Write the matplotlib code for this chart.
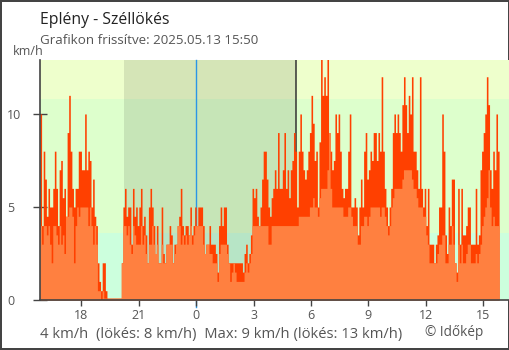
import matplotlib
matplotlib.use("Agg")
import matplotlib.pyplot as plt
import matplotlib.dates as mdates
import pandas as pd

plt.rcParams['font.family'] = ['Open Sans', 'DejaVu Sans']

# 5-minute wind gusts (km/h), from 2025.05.12 15:50
gust = [
    10, 4, 8, 6.5, 4.5, 6, 5, 5, 6, 8, 6, 4, 7, 7.5, 5.5, 6, 4.5, 9, 11, 8,
    6, 5, 6, 6, 8, 8, 7, 7, 10, 7, 8, 7.5, 5, 6.5, 4.5, 4, 2, 1, 0.5, 2,
    2, 0.5, 0.1, 0.1, 0.1, 0.1, 0.1, 0.1, 0.1, 0.1, 0.1,
    2, 5, 6, 4.5, 5, 5, 3, 6, 4.5, 5, 4, 5, 6, 4, 4.5, 3.5, 2, 5, 6, 5,
    4, 2.5, 4, 2, 2, 5, 2.5, 2, 3, 3, 4, 3.5, 2, 3, 3, 4, 4.5, 6, 4, 3.5,
    4, 4, 3.5, 5, 3.5, 4, 5, 4, 5, 5,
    5, 4, 2.5, 3, 3, 4, 3, 3, 3, 2.5, 1.5, 4, 5, 4, 5, 5, 3, 2, 2, 2,
    2, 2, 2, 2, 2, 2, 1.5, 2.5, 3, 2, 2.5, 3.5, 6, 5.5, 6, 4.5, 4, 5, 6.5, 8,
    8, 6.5, 5, 4.5, 5.5, 6, 7, 6, 9, 6,
    6, 7, 9, 6, 7, 5.5, 7, 7.5, 9, 8, 5, 8, 10, 8, 7, 6.5, 7, 8, 9, 11,
    9.5, 7.5, 8, 5, 8.5, 13, 11, 12, 11, 13, 9, 8, 7, 7.5, 10, 9, 10, 8, 6, 5.5,
    6, 6, 8, 10, 5, 5, 5.5, 5, 3.5, 5,
    6.5, 5, 8, 9, 6.5, 7, 8, 7.5, 9, 9, 7.5, 9, 8, 12, 8, 6, 5, 4, 5, 6,
    9, 10, 9, 10, 9, 8, 10.5, 12, 10.5, 9, 11, 10, 12, 8, 8, 7, 6, 12, 6, 5,
    6, 4, 6, 3, 3, 3, 2, 3, 3.5, 5,
    5, 10, 8, 3.5, 2.5, 5, 4, 6.5, 6.5, 2, 1.5, 6, 3, 6, 3.5, 3.5, 4, 5, 5, 3,
    3, 3, 6, 3, 3.5, 7, 8, 9, 10, 12, 10.5, 7, 6, 8, 7, 10, 8,
]

# 5-minute mean wind speed (km/h)
mean = [
    4, 3, 4, 4, 3.5, 4, 3, 2, 4, 4, 3.5, 3, 4, 3, 3.5, 2.5, 4.5, 4.5, 5, 5,
    4.5, 2, 4, 5, 4.5, 5, 5, 5, 5, 5, 4, 5, 4, 3, 4, 3, 0.5, 0.5, 0, 0.5,
    0.1, 0.1, 0.1, 0.1, 0.1, 0.1, 0.1, 0.1, 0.1, 0.1, 0.1,
    2, 4, 4, 3.5, 4, 3, 2.5, 4, 3.5, 3, 3, 3, 4, 3, 3.5, 2.5, 2, 3, 3, 4,
    3, 2.5, 3, 2, 2, 3, 2, 2, 3, 3, 3, 3, 2, 2.5, 3, 4, 4, 3, 3.5, 3,
    3.5, 3, 3.5, 4, 3, 3.5, 4, 4, 4, 4,
    4, 3, 2.5, 3, 3, 2.5, 2.5, 2, 2, 2, 1, 2.5, 3, 3, 3, 3, 2.5, 2, 1, 1.5,
    2, 1.5, 1, 1, 1, 1, 1, 1.5, 2, 1.5, 2, 2.5, 4, 4, 4, 4, 4, 4, 4, 4,
    4, 4, 3, 3, 4, 4, 4, 4, 4, 4,
    4, 4, 4, 4, 4, 4, 4, 4, 4, 4, 4, 4.5, 4.5, 4.5, 4.5, 4.5, 4.5, 4.5, 5, 5,
    5.5, 5, 5, 4.5, 5.5, 6, 6, 6, 6, 7, 9, 6, 5, 5, 5, 5, 5, 5, 5, 4.5,
    4.5, 4.5, 5, 5, 4.5, 4, 4, 4, 3, 3,
    4, 4, 4.5, 4.5, 4, 4.5, 5, 5, 5, 5, 5, 5, 4.5, 5, 5, 4.5, 4, 3.5, 4, 5,
    5.5, 6, 6, 6, 6, 6, 6.5, 7, 7, 7, 7, 7, 6.5, 6, 6, 5.5, 5, 5, 5, 4.5,
    4.5, 3.5, 3, 2, 2, 2, 2, 2, 2.5, 3,
    3, 3.5, 3.5, 2, 2, 3, 3, 4, 3, 2, 1, 3, 2, 3, 2, 2, 2.5, 3, 3, 2,
    2, 2, 2.5, 2, 2.5, 3, 4, 4.5, 5, 5.5, 7, 5, 4, 4.5, 4, 4, 4,
]

start = pd.Timestamp('2025-05-12 15:50')
sunset = pd.Timestamp('2025-05-12 20:15')
midnight = pd.Timestamp('2025-05-13 00:00')
sunrise = pd.Timestamp('2025-05-13 05:14')
x_end = pd.Timestamp('2025-05-13 16:21')

# bands in km/h: 1 m/s and 3 m/s
bands = [0, 3.6, 10.8, 12.9]
band_colors = ['#ccffdd', '#ddffcc', '#eeffcc']

edges = mdates.date2num(pd.date_range(start, periods=len(gust) + 1, freq='5min'))
gust_y = gust + [gust[-1]]
mean_y = mean + [mean[-1]]

fig = plt.figure(figsize=(5.1, 3.5), dpi=100, linewidth=1.5, edgecolor='#444444')
ax = fig.add_axes([40 / 510, 50 / 350, 469 / 510, 240 / 350])

for lo, hi, c in zip(bands[:-1], bands[1:], band_colors):
    ax.axhspan(lo, hi, color=c, lw=0, zorder=0)
ax.axvspan(sunset, sunrise, color='black', alpha=0.1, lw=0, zorder=0.5)
ax.axvline(midnight, ymin=-0.028, ymax=1, color='#2a96e6', lw=1, zorder=1, clip_on=False)
ax.axvline(sunrise, color='#333333', lw=1.1, zorder=1)

ax.fill_between(edges, 0, gust_y, step='post', color='#ff4000', lw=0, zorder=2)
ax.fill_between(edges, 0, mean_y, step='post', color='#ff8040', lw=0, zorder=3)

ax.set_xlim(mdates.date2num(start), mdates.date2num(x_end))
ax.set_ylim(bands[0], bands[-1])

ax.xaxis.set_major_locator(mdates.HourLocator(byhour=range(0, 24, 3)))
ax.xaxis.set_major_formatter(plt.FuncFormatter(lambda v, pos: str(mdates.num2date(v).hour)))
ax.set_yticks([0, 5, 10])

for s in ['top', 'right']:
    ax.spines[s].set_visible(False)
for s in ['left', 'bottom']:
    ax.spines[s].set_color('#444444')
    ax.spines[s].set_linewidth(1.2)
    ax.spines[s].set_zorder(4)

ax.tick_params(axis='x', direction='out', length=4.5, width=1, color='#444444',
               labelsize=9, labelcolor='#555555', pad=2)
ax.tick_params(axis='y', direction='inout', length=9.6, width=1, color='#444444',
               labelsize=9, labelcolor='#555555', pad=18.8)
for lab in ax.get_yticklabels():
    lab.set_horizontalalignment('left')

fig.text(40 / 510, 1 - 24 / 350, 'Eplény - Széllökés', fontsize=11.3, color='#222222', va='baseline')
fig.text(40 / 510, 1 - 44.5 / 350, 'Grafikon frissítve: 2025.05.13 15:50', fontsize=9.6,
         color='#555555', va='baseline')
fig.text(28 / 510, 1 - 55 / 350, 'km/h', fontsize=9, color='#555555', va='baseline', ha='center')

footer = '{:g} km/h  (lökés: {:g} km/h)  Max: {:g} km/h (lökés: {:g} km/h)'.format(
    mean[-1], gust[-1], max(mean), max(gust))
fig.text(40 / 510, 1 - 338 / 350, footer, fontsize=10.6, color='#555555', va='baseline')
fig.text(425 / 510, 1 - 336 / 350, '© Időkép', fontsize=9.8, color='#555555', va='baseline')

fig.savefig('out.png', dpi=100)
